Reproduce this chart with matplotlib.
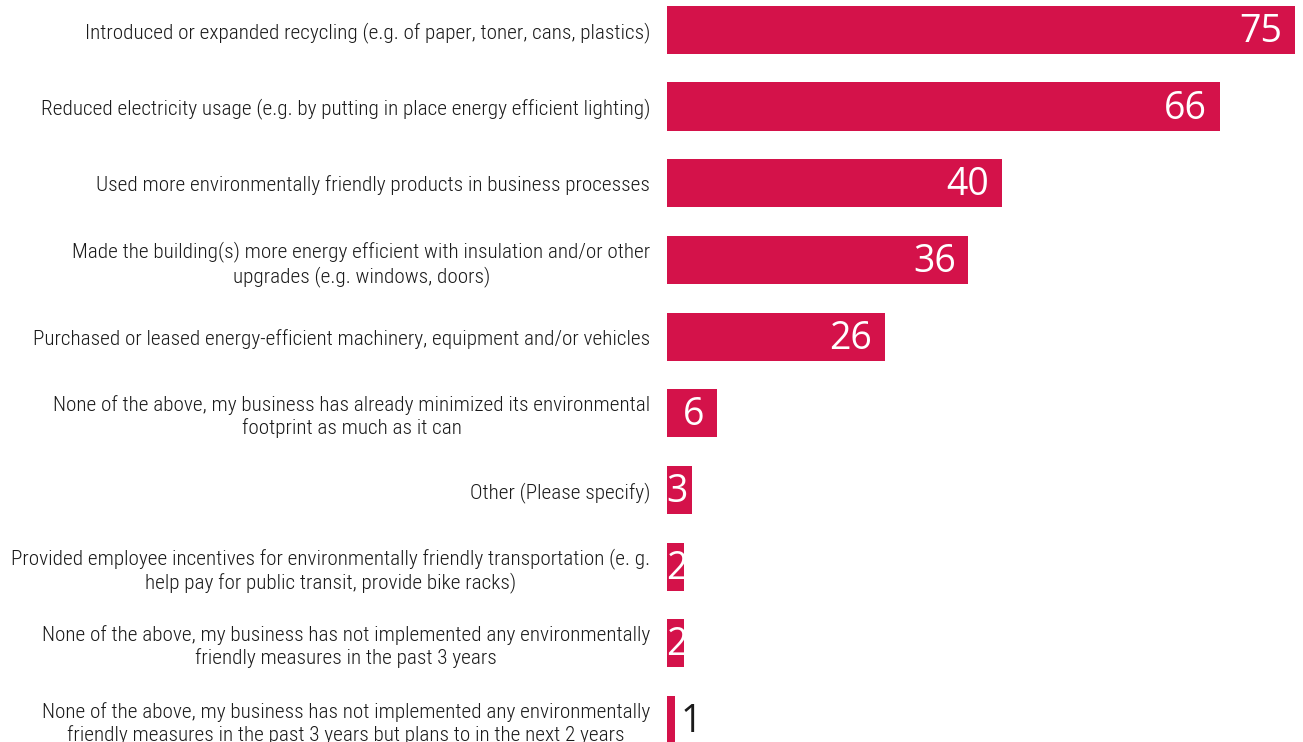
import matplotlib
matplotlib.use("Agg")
from matplotlib import pyplot as plt

categories = [
    "Introduced or expanded recycling (e.g. of paper, toner, cans, plastics)",
    "Reduced electricity usage (e.g. by putting in place energy efficient lighting)",
    "Used more environmentally friendly products in business processes",
    "Made the building(s) more energy efficient with insulation and/or other\nupgrades (e.g. windows, doors)",
    "Purchased or leased energy-efficient machinery, equipment and/or vehicles",
    "None of the above, my business has already minimized its environmental\nfootprint as much as it can",
    "Other (Please specify)",
    "Provided employee incentives for environmentally friendly transportation (e. g.\nhelp pay for public transit, provide bike racks)",
    "None of the above, my business has not implemented any environmentally\nfriendly measures in the past 3 years",
    "None of the above, my business has not implemented any environmentally\nfriendly measures in the past 3 years but plans to in the next 2 years",
]
values = [75, 66, 40, 36, 26, 6, 3, 2, 2, 1]

bar_color = "#D4124A"
label_font = ["Roboto Condensed", "DejaVu Sans"]
value_font = ["Open Sans", "DejaVu Sans"]

fig = plt.figure(figsize=(13.03, 7.42), dpi=100)
ax = fig.add_axes([667 / 1303, 0, (1295 - 667) / 1303, 1])

pos = list(range(len(values)))
ax.barh(pos, values, height=0.63, color=bar_color)
ax.set_xlim(0, 75)
ax.set_ylim(9.287, -0.391)

ax.set_yticks(pos)
ax.set_yticklabels(categories, fontsize=15.3, family=label_font, weight=300,
                   stretch="condensed", color="#1a1a1a")
for t in ax.get_yticklabels():
    t.set_multialignment("center")
    t.set_linespacing(1.2)
ax.tick_params(axis="y", length=0, pad=12)
ax.set_xticks([])
for s in ax.spines.values():
    s.set_visible(False)

# value labels: inside the bar end, or from the bar start when the bar is tiny
for i, v in enumerate(values):
    if v >= 5:
        ax.annotate(str(v), xy=(v, i), xytext=(-9, -1.5), textcoords="offset points",
                    ha="right", va="center", color="white", fontsize=27, family=value_font)
    elif v >= 2:
        ax.annotate(str(v), xy=(0, i), xytext=(-0.5, -1.5), textcoords="offset points",
                    ha="left", va="center", color="white", fontsize=27, family=value_font)
    else:
        ax.annotate(str(v), xy=(v, i), xytext=(4, -1.5), textcoords="offset points",
                    ha="left", va="center", color="#1a1a1a", fontsize=27, family=value_font)

plt.savefig("out.png", dpi=100)
plt.close(fig)
